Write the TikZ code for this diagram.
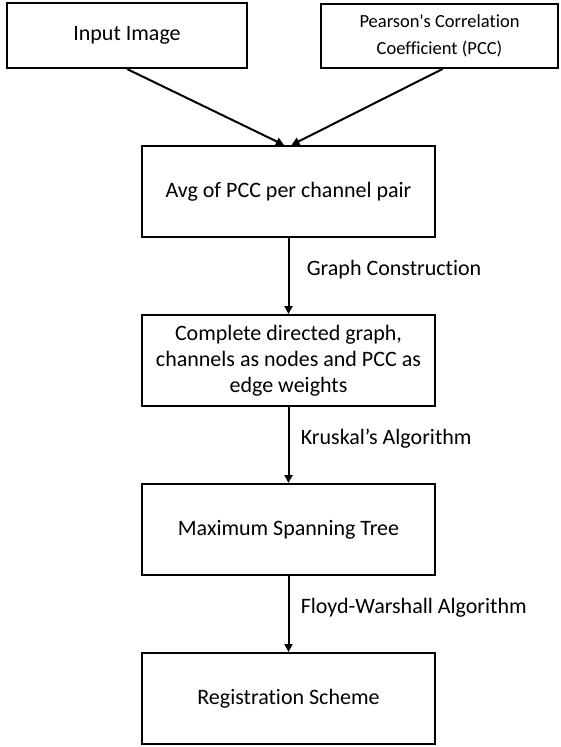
\documentclass[tikz,border=0pt]{standalone}
\usepackage{fontspec}
\setmainfont{Carlito}[Ligatures=NoCommon]
\usetikzlibrary{positioning,arrows.meta}

\tikzset{
  block/.style={draw, line width=2pt, minimum width=293pt, minimum height=91pt,
    align=center, font=\fontsize{22pt}{26pt}\selectfont},
  flow/.style={line width=2pt, -{Triangle[length=8pt,width=8pt]}},
  steplabel/.style={font=\fontsize{22pt}{26pt}\selectfont, midway, yshift=6pt}
}

\begin{document}
\begin{tikzpicture}
  \useasboundingbox (0,0) rectangle (561pt,-747pt);
  % inputs
  \node[block, minimum width=240pt, minimum height=65pt] (img) at (127pt,-35.5pt) {Input Image};
  \node[block, minimum width=237pt, minimum height=64pt,
        font=\fontsize{18.5pt}{27pt}\selectfont] (pcc) at (439.5pt,-36pt)
        {Pearson\textquotesingle s Correlation\\Coefficient (PCC)};
  % pipeline
  \node[block] (avg) at (288.5pt,-191.5pt) {Avg of PCC per channel pair};
  \node[block, below=76pt of avg] (graph) {Complete directed graph,\\channels as nodes and PCC as\\edge weights};
  \node[block, below=76pt of graph] (mst) {Maximum Spanning Tree};
  \node[block, below=76pt of mst] (reg) {Registration Scheme};

  \draw[flow] (img.south) -- ([xshift=-4.5pt]avg.north);
  \draw[flow] ([xshift=3pt]pcc.south) -- ([xshift=3pt]avg.north);
  \draw[flow] (avg) -- node[steplabel, right=14pt] {Graph Construction} (graph);
  \draw[flow] (graph) -- node[steplabel, right=8pt] {Kruskal’s Algorithm} (mst);
  \draw[flow] (mst) -- node[steplabel, right=8pt] {Floyd-Warshall Algorithm} (reg);
\end{tikzpicture}
\end{document}
